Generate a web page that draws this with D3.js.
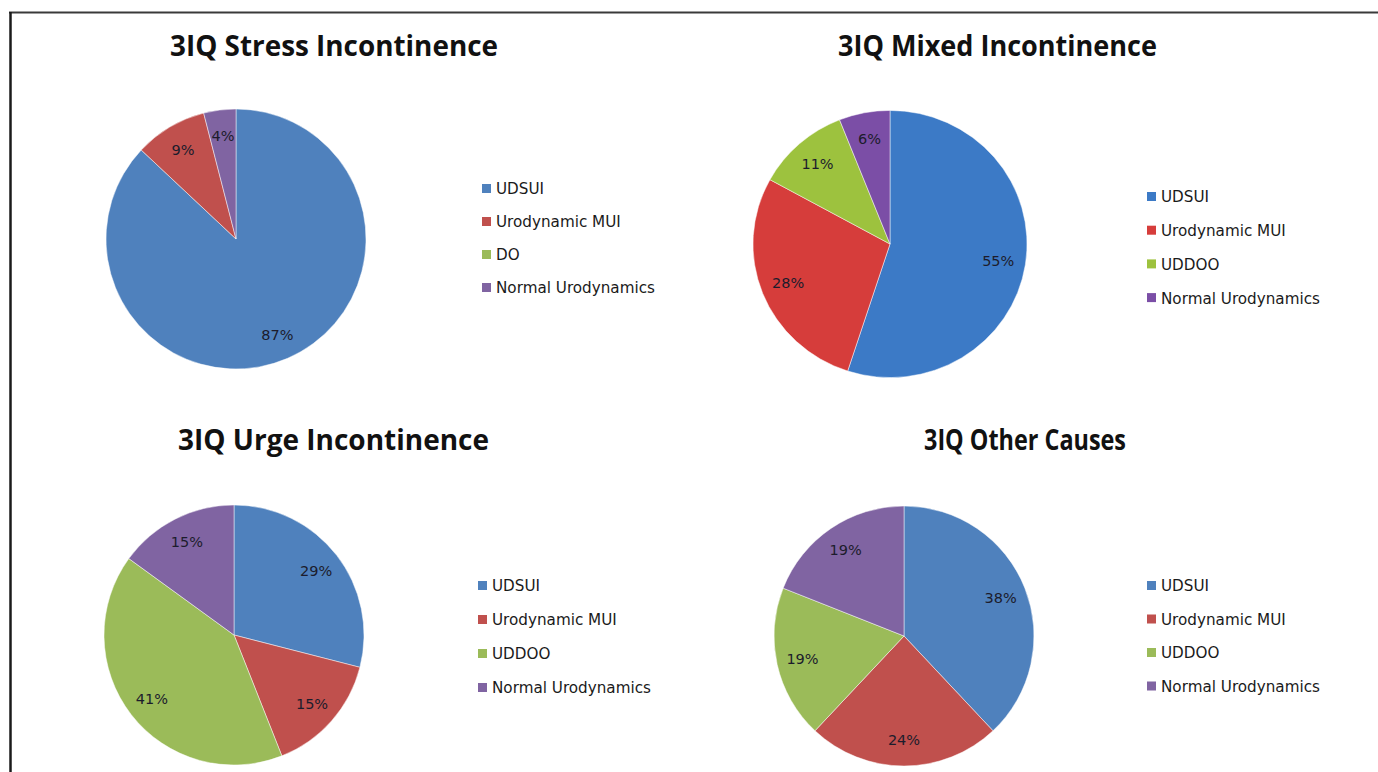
<!DOCTYPE html>
<html>
<head>
<meta charset="utf-8">
<script src="https://cdn.jsdelivr.net/npm/d3@7"></script>
<style>
  html, body { margin: 0; padding: 0; background: #fff; }
  svg { display: block; }
</style>
</head>
<body>
<svg id="chart" width="1378" height="772"></svg>
<script>
// ---- data ----
const chartTitles = ["3IQ Stress Incontinence", "3IQ Mixed Incontinence", "3IQ Urge Incontinence", "3IQ Other Causes"];
const stressCategories = ["UDSUI", "Urodynamic MUI", "DO", "Normal Urodynamics"];
const otherCategories = ["UDSUI", "Urodynamic MUI", "UDDOO", "Normal Urodynamics"];
const stressValues = [87, 9, 0, 4];
const mixedValues = [55, 28, 11, 6];
const urgeValues = [29, 15, 41, 15];
const otherValues = [38, 24, 19, 19];

// ---- styles / layout ----
const paletteStd = ["#4F81BD", "#C0504D", "#9BBB59", "#8064A2"];
const paletteVivid = ["#3C7AC6", "#D63D3B", "#9DC23E", "#7B4EA6"];

const panels = [
  { title: chartTitles[0], cats: stressCategories, vals: stressValues, pal: paletteStd,
    cx: 236, cy: 239, r: 130, sy: 1, titleX: 170, titleW: 328, titleY: 56,
    legX: 482, legY: 189, legGap: 33 },
  { title: chartTitles[1], cats: otherCategories, vals: mixedValues, pal: paletteVivid,
    cx: 890, cy: 244, r: 137, sy: 0.975, titleX: 838, titleW: 319, titleY: 56,
    legX: 1147, legY: 197, legGap: 33.7 },
  { title: chartTitles[2], cats: otherCategories, vals: urgeValues, pal: paletteStd,
    cx: 234, cy: 635, r: 130, sy: 1, titleX: 178, titleW: 311, titleY: 450,
    legX: 478, legY: 586, legGap: 34 },
  { title: chartTitles[3], cats: otherCategories, vals: otherValues, pal: paletteStd,
    cx: 904, cy: 636, r: 130, sy: 1, titleX: 924, titleW: 202, titleY: 450,
    legX: 1147, legY: 586, legGap: 33.5 }
];

const svg = d3.select("#chart");

// frame
svg.append("line").attr("x1", 9).attr("x2", 1378).attr("y1", 12.5).attr("y2", 12.5)
  .attr("stroke", "#3a3a3a").attr("stroke-width", 2);
svg.append("line").attr("x1", 10.5).attr("x2", 10.5).attr("y1", 12).attr("y2", 772)
  .attr("stroke", "#1a1a1a").attr("stroke-width", 2.5);

const pie = d3.pie().sort(null).value(d => d.v);

panels.forEach(p => {
  const g = svg.append("g");
  const data = p.cats.map((c, i) => ({ c, v: p.vals[i], i }));
  const arcs = pie(data);
  const color = d3.scaleOrdinal().domain(p.cats).range(p.pal);
  const arc = d3.arc().innerRadius(0).outerRadius(p.r);
  const labelArc = d3.arc().innerRadius(p.r * 0.8).outerRadius(p.r * 0.8);

  // title
  g.append("text")
    .attr("x", p.titleX).attr("y", p.titleY)
    .attr("textLength", p.titleW).attr("lengthAdjust", "spacingAndGlyphs")
    .style("font-family", "'Open Sans', 'DejaVu Sans', sans-serif")
    .style("font-weight", 700).style("font-size", "28px").style("fill", "#111")
    .text(p.title);

  // slices
  const sg = g.append("g").attr("transform", `translate(${p.cx},${p.cy}) scale(1,${p.sy})`);
  sg.selectAll("path").data(arcs.filter(a => a.data.v > 0)).join("path")
    .attr("d", arc)
    .attr("fill", d => color(d.data.c))
    .attr("stroke", "rgba(255,255,255,0.6)").attr("stroke-width", 0.8);

  // labels
  const lg = g.append("g").attr("transform", `translate(${p.cx},${p.cy})`);
  lg.selectAll("text").data(arcs.filter(a => a.data.v > 0)).join("text")
    .attr("transform", d => { const [x, y] = labelArc.centroid(d); return `translate(${x},${y * p.sy})`; })
    .attr("text-anchor", "middle").attr("dy", "0.35em")
    .style("font-family", "'DejaVu Sans', sans-serif").style("font-size", "14.5px")
    .style("fill", "#1c1c2c")
    .text(d => d.data.v + "%");

  // legend
  const leg = g.append("g");
  const rows = leg.selectAll("g").data(p.cats).join("g")
    .attr("transform", (d, i) => `translate(${p.legX},${p.legY + i * p.legGap})`);
  rows.append("rect").attr("x", 0).attr("y", -5).attr("width", 9).attr("height", 9)
    .attr("fill", d => color(d));
  rows.append("text").attr("x", 14).attr("y", 0).attr("dy", "0.36em")
    .style("font-family", "'DejaVu Sans', sans-serif").style("font-size", "15.2px")
    .style("fill", "#1a1a1a")
    .text(d => d);
});
</script>
</body>
</html>
